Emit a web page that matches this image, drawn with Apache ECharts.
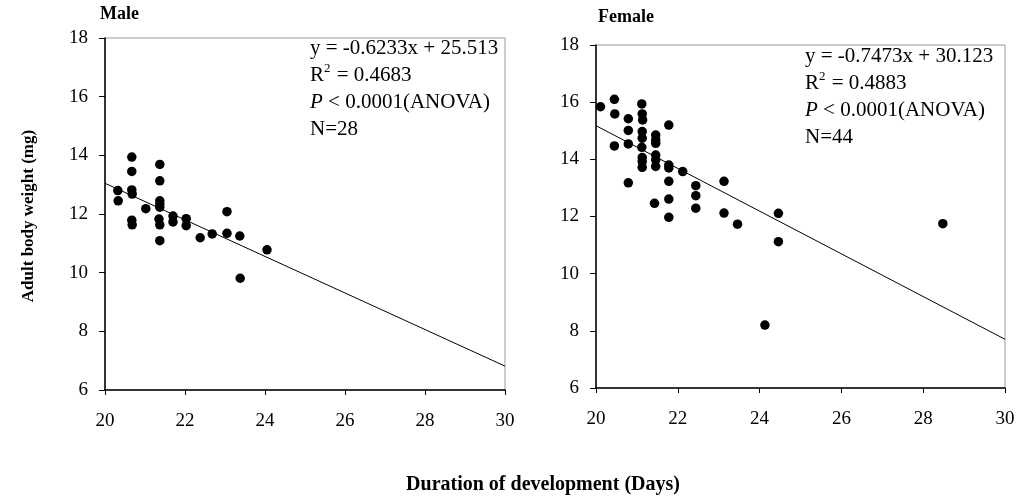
<!DOCTYPE html>
<html>
<head>
<meta charset="utf-8">
<script src="https://cdn.jsdelivr.net/npm/echarts@6/dist/echarts.min.js"></script>
<style>
html,body{margin:0;padding:0;background:#fff;}
#chart{width:1020px;height:499px;}
</style>
</head>
<body>
<div id="chart"></div>
<script>
// ---- data ----
const xTicks = [20, 22, 24, 26, 28, 30];
const yTicks = [6, 8, 10, 12, 14, 16, 18];

const maleDays = [20.32, 20.33, 20.67, 20.67, 20.67, 20.68, 20.67, 20.68, 21.02,
  21.37, 21.37, 21.37, 21.37, 21.37, 21.35, 21.37, 21.37, 21.70, 21.70,
  22.03, 22.03, 22.38, 22.68, 23.05, 23.05, 23.37, 24.05, 23.38];
const maleWeight = [12.80, 12.45, 13.94, 13.45, 12.82, 12.68, 11.79, 11.63, 12.18,
  13.69, 13.13, 12.45, 12.34, 12.23, 11.83, 11.63, 11.09, 11.93, 11.73,
  11.84, 11.60, 11.19, 11.32, 12.08, 11.34, 11.25, 10.78, 9.81];

const femaleDays = [20.11, 20.45, 20.46, 20.45, 20.79, 20.79, 20.79, 20.79,
  21.12, 21.13, 21.14, 21.13, 21.13, 21.12, 21.13, 21.13, 21.13,
  21.46, 21.46, 21.46, 21.46, 21.46, 21.46, 21.43,
  21.78, 21.78, 21.78, 21.78, 21.78, 21.78,
  22.12, 22.44, 22.44, 22.44, 23.13, 23.13, 23.46, 24.46, 24.46, 24.13, 28.48];
const femaleWeight = [15.84, 16.10, 15.59, 14.47, 15.42, 15.01, 14.54, 13.18,
  15.94, 15.59, 15.38, 14.97, 14.74, 14.42, 14.06, 13.92, 13.72,
  14.85, 14.68, 14.56, 14.15, 13.98, 13.75, 12.46,
  15.20, 13.80, 13.70, 13.23, 12.61, 11.97,
  13.57, 13.08, 12.73, 12.29, 13.23, 12.12, 11.73, 12.11, 11.12, 8.20, 11.75];

const maleSlope = -0.6233, maleIntercept = 25.513;
const femaleSlope = -0.7473, femaleIntercept = 30.123;
const fitDays = [20, 30];

const maleText = ['y = -0.6233x + 25.513', 'R2 = 0.4683', 'P < 0.0001(ANOVA)', 'N=28'];
const femaleText = ['y = -0.7473x + 30.123', 'R2 = 0.4883', 'P < 0.0001(ANOVA)', 'N=44'];
const panelTitles = ['Male', 'Female'];
const yAxisTitle = 'Adult body weight (mg)';
const xAxisTitle = 'Duration of development (Days)';

// ---- build ----
const FONT = '"Liberation Serif", "DejaVu Serif", serif';
const pairs = (xs, ys) => xs.map((x, i) => [x, ys[i]]);
const fit = (m, b) => fitDays.map(x => [x, m * x + b]);

function xAxisCfg(idx) {
  return {
    gridIndex: idx, type: 'value', min: xTicks[0], max: xTicks[xTicks.length - 1], interval: 2,
    axisLine: {show: true, onZero: false, lineStyle: {color: '#000', width: 1.5}},
    axisTick: {show: true, inside: false, length: 5, lineStyle: {color: '#000'}},
    axisLabel: {color: '#000', fontFamily: FONT, fontSize: 19, margin: 22},
    splitLine: {show: false}
  };
}
function yAxisCfg(idx) {
  return {
    gridIndex: idx, type: 'value', min: yTicks[0], max: yTicks[yTicks.length - 1], interval: 2,
    axisLine: {show: true, onZero: false, lineStyle: {color: '#000', width: 1.5}},
    axisTick: {show: true, inside: false, length: 6, lineStyle: {color: '#000'}},
    axisLabel: {color: '#000', fontFamily: FONT, fontSize: 19, margin: 17},
    splitLine: {show: false}
  };
}

function textBlock(lines, left, top) {
  const LH = 27;
  const rich = {
    n: {fontFamily: FONT, fontSize: 21, color: '#000', lineHeight: LH},
    s: {fontFamily: FONT, fontSize: 13, color: '#000', verticalAlign: 'top', lineHeight: LH, padding: [0, 1, 10, 0]},
    i: {fontFamily: FONT, fontSize: 21, color: '#000', fontStyle: 'italic', lineHeight: LH}
  };
  const txt = [
    '{n|' + lines[0] + '}',
    '{n|R}{s|2}{n|' + lines[1].slice(2) + '}',
    '{i|P}{n|' + lines[2].slice(1) + '}',
    '{n|' + lines[3] + '}'
  ].join('\n');
  return {type: 'text', left: left, top: top, style: {text: txt, rich: rich, fill: '#000'}};
}

const chart = echarts.init(document.getElementById('chart'), null, {renderer: 'canvas'});
chart.setOption({
  backgroundColor: '#fff',
  animation: false,
  grid: [
    {left: 105, top: 38, width: 400, height: 352, show: true, borderColor: '#999', borderWidth: 1, backgroundColor: 'transparent'},
    {left: 596, top: 45, width: 409, height: 343, show: true, borderColor: '#999', borderWidth: 1, backgroundColor: 'transparent'}
  ],
  xAxis: [xAxisCfg(0), xAxisCfg(1)],
  yAxis: [yAxisCfg(0), yAxisCfg(1)],
  series: [
    {type: 'scatter', xAxisIndex: 0, yAxisIndex: 0, data: pairs(maleDays, maleWeight),
      symbolSize: 9.5, itemStyle: {color: '#000', opacity: 1}},
    {type: 'line', xAxisIndex: 0, yAxisIndex: 0, data: fit(maleSlope, maleIntercept),
      symbol: 'none', lineStyle: {color: '#000', width: 1}},
    {type: 'scatter', xAxisIndex: 1, yAxisIndex: 1, data: pairs(femaleDays, femaleWeight),
      symbolSize: 9.5, itemStyle: {color: '#000', opacity: 1}},
    {type: 'line', xAxisIndex: 1, yAxisIndex: 1, data: fit(femaleSlope, femaleIntercept),
      symbol: 'none', lineStyle: {color: '#000', width: 1}}
  ],
  graphic: [
    {type: 'text', left: 100, top: 5, style: {text: panelTitles[0], fontFamily: FONT, fontSize: 18, fontWeight: 'bold', fill: '#000'}},
    {type: 'text', left: 598, top: 8, style: {text: panelTitles[1], fontFamily: FONT, fontSize: 18, fontWeight: 'bold', fill: '#000'}},
    textBlock(maleText, 310, 38),
    textBlock(femaleText, 805, 46),
    {type: 'text', x: 29, y: 216, rotation: Math.PI / 2,
      style: {text: yAxisTitle, fontFamily: FONT, fontSize: 17, fontWeight: 'bold', fill: '#000', align: 'center', verticalAlign: 'middle'}},
    {type: 'text', x: 543, y: 485,
      style: {text: xAxisTitle, fontFamily: FONT, fontSize: 20, fontWeight: 'bold', fill: '#000', align: 'center', verticalAlign: 'middle'}}
  ]
});
</script>
</body>
</html>
